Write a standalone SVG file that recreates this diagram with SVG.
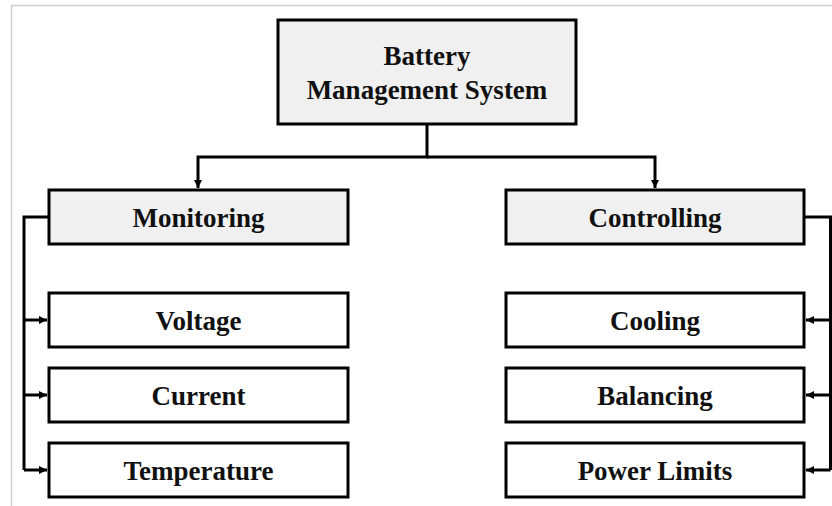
<svg xmlns="http://www.w3.org/2000/svg" width="832" height="506" viewBox="0 0 832 506">
<style>
.box{stroke:#000;stroke-width:3;}
.hd{fill:#f0f0f0;}
.lf{fill:#fff;}
.t{font-family:"Liberation Serif","Times New Roman",serif;font-weight:bold;font-size:27px;fill:#111;text-anchor:middle;}
.c{fill:none;stroke:#000;stroke-width:3;}
</style>
<defs>
<marker id="ah" viewBox="0 0 10 10" refX="10" refY="5" markerWidth="9" markerHeight="8" markerUnits="userSpaceOnUse" orient="auto">
<path d="M0,0 L10,5 L0,10 z" fill="#000"/>
</marker>
</defs>
<rect width="832" height="506" fill="#fff"/>
<path d="M11.5,506 V5.5 H832" fill="none" stroke="#d0d0d0" stroke-width="1.5"/>
<g id="connectors">
<path class="c" d="M427,124 V157 H198 V188" marker-end="url(#ah)"/>
<path class="c" d="M427,157 H655 V188" marker-end="url(#ah)"/>
<path class="c" d="M49,217 H24 V470"/>
<path class="c" d="M24,320 H47" marker-end="url(#ah)"/>
<path class="c" d="M24,395 H47" marker-end="url(#ah)"/>
<path class="c" d="M24,470 H47" marker-end="url(#ah)"/>
<path class="c" d="M804,217 H830.5 V470"/>
<path class="c" d="M830.5,320 H806" marker-end="url(#ah)"/>
<path class="c" d="M830.5,395 H806" marker-end="url(#ah)"/>
<path class="c" d="M830.5,470 H806" marker-end="url(#ah)"/>
</g>
<g id="bms">
<rect class="box hd" x="278" y="20" width="298" height="104"/>
<text class="t" x="427" y="65">Battery</text>
<text class="t" x="427" y="99">Management System</text>
</g>
<g id="monitoring">
<rect class="box hd" x="49" y="190" width="299" height="54"/>
<text class="t" x="198.5" y="227">Monitoring</text>
</g>
<g id="voltage">
<rect class="box lf" x="49" y="293" width="299" height="54"/>
<text class="t" x="198.5" y="330">Voltage</text>
</g>
<g id="current">
<rect class="box lf" x="49" y="368" width="299" height="54"/>
<text class="t" x="198.5" y="405">Current</text>
</g>
<g id="temperature">
<rect class="box lf" x="49" y="443" width="299" height="54"/>
<text class="t" x="198.5" y="480">Temperature</text>
</g>
<g id="controlling">
<rect class="box hd" x="506" y="190" width="298" height="54"/>
<text class="t" x="655" y="227">Controlling</text>
</g>
<g id="cooling">
<rect class="box lf" x="506" y="293" width="298" height="54"/>
<text class="t" x="655" y="330">Cooling</text>
</g>
<g id="balancing">
<rect class="box lf" x="506" y="368" width="298" height="54"/>
<text class="t" x="655" y="405">Balancing</text>
</g>
<g id="powerlimits">
<rect class="box lf" x="506" y="443" width="298" height="54"/>
<text class="t" x="655" y="480">Power Limits</text>
</g>
</svg>
